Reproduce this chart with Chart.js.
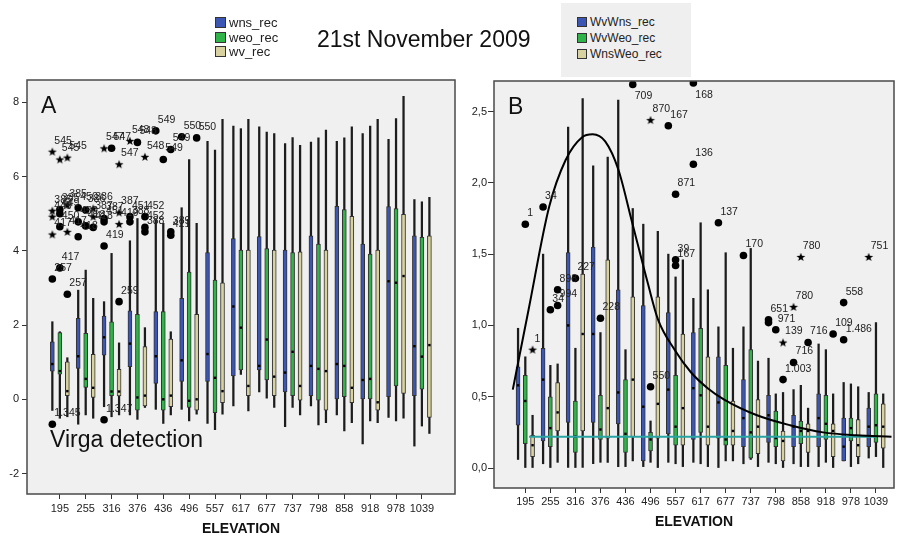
<!DOCTYPE html>
<html>
<head>
<meta charset="utf-8">
<script src="https://cdn.jsdelivr.net/npm/chart.js@4.4.1/dist/chart.umd.min.js"></script>
<style>
  body { margin: 0; background: #fff; }
  #wrap { position: relative; width: 899px; height: 538px; overflow: hidden;
          font-family: "Liberation Sans", Arial, sans-serif; color: #111; }
  canvas { position: absolute; top: 0; }
  #chartA { left: 0; }
  #chartB { left: 460px; }
  .txt { position: absolute; white-space: nowrap; line-height: 23px; font-size: 23px; }
  .key { position: absolute; white-space: nowrap; font-size: 13px; line-height: 11px; color: #222; }
  .key i { display: inline-block; width: 11px; height: 11px; box-sizing: border-box;
           border: 1px solid #333; vertical-align: top; margin-right: 3px; }
  #keyBoxB { position: absolute; left: 561px; top: 3px; width: 130px; height: 74px; background: #efefef; }
  #keyB .key { font-size: 12px; }
  #keyB .key i { width: 10px; height: 10px; }
</style>
</head>
<body>
<div id="wrap">
  <canvas id="chartA" width="460" height="538"></canvas>
  <canvas id="chartB" width="439" height="538"></canvas>
  <div class="txt" style="left:317px;top:28px">21st November 2009</div>
  <div class="txt" style="left:41px;top:94px">A</div>
  <div class="txt" style="left:508px;top:95px">B</div>
  <div class="txt" style="left:50px;top:428px">Virga detection</div>
  <div id="keyA"></div>
  <div id="keyBoxB"></div>
  <div id="keyB"></div>
</div>
<script>
Chart.defaults.font.family = '"Liberation Sans", Arial, sans-serif';

const elevations = ['195', '255', '316', '376', '436', '496', '557', '617', '677', '737', '798', '858', '918', '978', '1039'];
const namesA = ['wns_rec', 'weo_rec', 'wv_rec'];
const namesB = ['WvWns_rec', 'WvWeo_rec', 'WnsWeo_rec'];
const ticksA = [-2, 0, 2, 4, 6, 8];
const ticksB = [0, 0.5, 1, 1.5, 2, 2.5];

// box stats per elevation: [low whisker, Q1, median, Q3, high whisker]
const wnsA = [
  [-0.30, 0.76, 0.95, 1.55, 2.09], [-0.67, 0.83, 1.16, 2.18, 2.94], [-0.20, 1.19, 1.67, 2.24, 2.63],
  [-0.42, 0.88, 1.50, 2.38, 4.27], [-0.27, 0.43, 1.16, 2.36, 4.83], [-0.27, 0.48, 1.05, 2.72, 5.16],
  [-0.65, 0.48, 1.22, 3.95, 6.95], [-0.18, 0.63, 2.50, 4.33, 7.36], [0.20, 0.79, 0.90, 4.38, 7.34],
  [-0.74, 0.20, 0.72, 4.02, 6.89], [-0.18, 0.10, 0.90, 4.40, 6.93], [-0.42, 0.00, 0.95, 5.20, 6.95],
  [-1.20, 0.00, 0.52, 4.18, 7.16], [-0.49, 0.07, 3.18, 5.19, 7.00], [-1.26, 0.10, 1.43, 4.40, 5.38]
];
const weoA = [
  [-0.51, 0.68, 0.76, 1.80, 1.82], [-0.42, 0.32, 0.55, 1.78, 3.48], [-0.47, 0.10, 0.21, 2.09, 3.93],
  [-0.54, -0.29, 0.05, 2.29, 4.87], [-0.65, -0.29, 0.00, 2.36, 4.74], [-0.58, -0.22, -0.04, 3.43, 6.46],
  [-0.82, -0.36, 0.58, 3.21, 6.71], [0.67, 0.79, 1.93, 4.02, 7.29], [0.03, 0.52, 1.61, 4.06, 7.20],
  [-0.22, 0.10, 1.28, 3.95, 7.05], [-0.69, -0.02, 0.82, 4.18, 7.04], [-0.85, 0.07, 0.90, 5.11, 7.04],
  [-0.58, 0.00, 0.55, 3.91, 7.36], [-0.58, 0.36, 3.14, 5.14, 7.56], [-0.72, 0.27, 1.15, 4.36, 5.32]
];
const wvA = [
  [-0.47, 0.10, 0.22, 1.01, 1.12], [-0.51, 0.05, 0.31, 1.21, 2.72], [-0.42, 0.09, 0.21, 0.81, 1.52],
  [-0.22, -0.18, 0.10, 1.42, 1.93], [-0.42, -0.20, 0.10, 1.62, 1.82], [-0.40, -0.29, 0.00, 2.29, 4.74],
  [-0.40, -0.09, 0.22, 3.14, 7.54], [-0.31, 0.10, 0.36, 4.02, 7.54], [-0.22, 0.10, 0.61, 4.02, 7.16],
  [-0.42, -0.02, 0.36, 3.97, 6.84], [-0.63, -0.29, 0.76, 4.02, 7.25], [-0.63, -0.09, 0.31, 4.93, 7.34],
  [-0.63, -0.29, -0.08, 4.02, 7.54], [-0.51, 0.16, 3.32, 4.98, 8.16], [-0.92, -0.49, 1.46, 4.40, 5.44]
];

const wvWnsB = [
  [0.06, 0.30, 0.58, 0.71, 0.98], [0.03, 0.19, 0.62, 0.84, 1.50], [0.00, 0.32, 1.00, 1.51, 2.39],
  [0.03, 0.32, 0.94, 1.55, 2.12], [0.01, 0.31, 0.53, 1.25, 2.58], [0.01, 0.05, 0.43, 1.14, 1.71],
  [0.04, 0.24, 0.55, 1.09, 1.50], [0.04, 0.20, 0.56, 0.95, 1.19], [0.00, 0.21, 0.46, 0.78, 0.99],
  [0.03, 0.15, 0.35, 0.62, 0.99], [0.04, 0.18, 0.37, 0.51, 0.77], [0.03, 0.15, 0.29, 0.37, 0.55],
  [0.01, 0.15, 0.35, 0.52, 0.87], [0.05, 0.05, 0.15, 0.35, 0.60], [0.07, 0.15, 0.29, 0.42, 0.53]
];
const wvWeoB = [
  [0.00, 0.17, 0.47, 0.65, 0.78], [0.00, 0.15, 0.28, 0.50, 0.72], [0.00, 0.11, 0.22, 0.47, 0.84],
  [0.04, 0.20, 0.27, 0.51, 0.95], [0.01, 0.11, 0.24, 0.62, 0.83], [0.04, 0.12, 0.20, 0.25, 0.33],
  [0.03, 0.16, 0.29, 0.65, 1.34], [0.03, 0.25, 0.51, 0.98, 1.72], [0.05, 0.16, 0.20, 0.72, 1.51],
  [0.06, 0.07, 0.25, 0.83, 1.54], [0.03, 0.15, 0.21, 0.40, 0.52], [0.01, 0.17, 0.26, 0.33, 0.58],
  [0.04, 0.20, 0.31, 0.51, 0.83], [0.01, 0.19, 0.28, 0.35, 0.59], [0.08, 0.18, 0.30, 0.52, 1.02]
];
const wnsWeoB = [
  [0.00, 0.08, 0.16, 0.23, 0.37], [0.04, 0.26, 0.39, 0.60, 0.73], [0.00, 0.26, 0.94, 1.36, 2.59],
  [0.04, 0.21, 0.42, 1.46, 2.18], [0.05, 0.22, 0.62, 1.20, 1.82], [0.00, 0.21, 0.45, 1.20, 1.66],
  [0.01, 0.16, 0.42, 0.94, 1.46], [0.01, 0.16, 0.29, 0.78, 1.25], [0.05, 0.16, 0.26, 0.47, 0.84],
  [0.01, 0.10, 0.29, 0.48, 0.75], [0.00, 0.05, 0.19, 0.26, 0.53], [0.01, 0.11, 0.26, 0.31, 0.42],
  [0.00, 0.08, 0.26, 0.31, 0.52], [0.03, 0.08, 0.16, 0.34, 0.57], [0.00, 0.14, 0.29, 0.45, 0.52]
];

// outliers: [elevation index, series, value, case label, 'o' outlier | '*' extreme]
const outA = [
  [0, 0, 6.67, '545', '*'], [0, 1, 6.46, '545', '*'], [0, 2, 6.51, '545', '*'],
  [0, 0, 5.08, '385', '*'], [0, 1, 5.11, '385', 'o'], [0, 2, 5.23, '385', '*'],
  [0, 0, 4.92, '449', '*'], [0, 1, 5.00, '449', 'o'], [0, 1, 4.65, '450', 'o'],
  [0, 0, 4.44, '417', '*'], [0, 2, 4.51, '417', '*'], [0, 1, 3.54, '417', 'o'],
  [0, 0, 3.24, '257', 'o'], [0, 2, 2.83, '257', 'o'], [0, 0, -0.67, '1.345', 'o'],
  [1, 0, 5.16, '450', 'o'], [1, 1, 5.10, '386', 'o'], [1, 2, 5.14, '386', '*'],
  [1, 2, 4.92, '387', '*'], [1, 0, 4.78, '450', 'o'], [1, 1, 4.67, '418', 'o'],
  [1, 2, 4.63, '418', 'o'], [1, 0, 4.38, '418', 'o'],
  [2, 0, 6.76, '547', '*'], [2, 1, 6.76, '547', 'o'], [2, 2, 6.33, '547', '*'],
  [2, 0, 4.87, '387', 'o'], [2, 0, 4.78, '451', 'o'], [2, 0, 4.13, '419', 'o'],
  [2, 2, 5.03, '387', '*'], [2, 2, 4.72, '419', '*'], [2, 2, 2.63, '259', 'o'],
  [2, 0, -0.55, '1.347', 'o'],
  [3, 0, 6.96, '548', '*'], [3, 1, 6.92, '548', 'o'], [3, 2, 6.53, '548', '*'],
  [3, 0, 4.92, '451', 'o'], [3, 0, 4.78, '388', 'o'], [3, 2, 4.92, '452', 'o'],
  [3, 2, 4.63, '452', 'o'], [3, 2, 4.51, '388', 'o'],
  [4, 0, 7.23, '549', 'o'], [4, 1, 6.46, '549', 'o'], [4, 2, 6.73, '549', 'o'],
  [4, 2, 4.51, '389', 'o'], [4, 2, 4.42, '421', 'o'],
  [5, 0, 7.07, '550', 'o'], [5, 2, 7.04, '550', 'o']
];
const outB = [
  [0, 1, 1.71, '1', 'o'], [0, 2, 0.83, '1', '*'], [1, 0, 1.83, '34', 'o'],
  [1, 1, 1.11, '34', 'o'], [1, 2, 1.25, '898', 'o'], [1, 2, 1.14, '994', 'o'],
  [2, 1, 1.33, '227', 'o'], [3, 1, 1.05, '228', 'o'], [4, 2, 2.69, '709', 'o'],
  [5, 1, 0.57, '550', 'o'], [5, 1, 2.44, '870', '*'], [6, 0, 2.40, '167', 'o'],
  [6, 1, 1.92, '871', 'o'], [6, 1, 1.46, '39', 'o'], [6, 1, 1.42, '167', 'o'],
  [7, 0, 2.70, '168', 'o'], [7, 0, 2.13, '136', 'o'], [8, 0, 1.72, '137', 'o'],
  [9, 0, 1.49, '170', 'o'], [10, 0, 1.04, '651', 'o'], [10, 0, 1.02, '', 'o'],
  [10, 1, 0.97, '971', 'o'], [10, 2, 0.88, '139', '*'], [10, 2, 0.62, '1.003', 'o'],
  [11, 0, 1.13, '780', '*'], [11, 1, 1.48, '780', '*'], [11, 0, 0.74, '716', 'o'],
  [11, 2, 0.88, '716', 'o'], [12, 2, 0.94, '109', 'o'], [13, 0, 1.16, '558', 'o'],
  [13, 0, 0.90, '1.486', 'o'], [14, 0, 1.48, '751', '*']
];

// fitted density curve and reference level in panel B (x in elevation index units)
const curveX = [-0.50, 0.13, 0.95, 1.61, 2.27, 2.69, 3.19, 3.72, 4.24, 4.90, 5.30, 5.96, 6.62, 7.28, 7.94, 9.25, 10.57, 11.89, 13.21, 14.62];
const curveY = [0.55, 1.11, 1.83, 2.16, 2.32, 2.34, 2.29, 2.09, 1.74, 1.29, 1.04, 0.83, 0.67, 0.56, 0.48, 0.37, 0.30, 0.25, 0.23, 0.22];
const levelX = [0.15, 14.0];
const levelY = [0.22, 0.22];

const fills = ['#3c56b4', '#30b44a', '#d8d2a0'];
const shift = [-0.29, 0, 0.29];

// filled five-point star for extreme values
const starImg = document.createElement('canvas');
starImg.width = starImg.height = 10;
(function () {
  const c = starImg.getContext('2d');
  c.beginPath();
  for (let k = 0; k < 10; k++) {
    const r = k % 2 ? 1.9 : 4.6;
    const a = -Math.PI / 2 + k * Math.PI / 5;
    c.lineTo(5 + r * Math.cos(a), 5.4 + r * Math.sin(a));
  }
  c.closePath();
  c.fillStyle = '#000';
  c.fill();
})();

function panelDatasets(stats, outliers) {
  const sets = [];
  stats.forEach((rows, s) => {
    const at = i => i + shift[s];
    sets.push({ type: 'bar', order: 5, grouped: false, barThickness: 1.6, backgroundColor: '#1c1c1c',
      data: rows.map((r, i) => ({ x: at(i), y: [r[0], r[4]] })) });
    sets.push({ type: 'bar', order: 4, grouped: false, barThickness: 4, backgroundColor: fills[s],
      borderColor: '#333', borderWidth: 1, borderSkipped: false,
      data: rows.map((r, i) => ({ x: at(i), y: [r[1], r[3]] })) });
    sets.push({ type: 'scatter', order: 3, pointStyle: 'rect', pointRadius: 1.7, borderWidth: 0, backgroundColor: '#000',
      data: rows.map((r, i) => ({ x: at(i), y: r[2] })) });
  });
  const pick = kind => outliers.filter(o => o[4] === kind).map(o => ({ x: o[0] + shift[o[1]], y: o[2] }));
  sets.push({ type: 'scatter', order: 2, pointStyle: 'circle', pointRadius: 3.8, borderWidth: 0, backgroundColor: '#000', data: pick('o') });
  sets.push({ type: 'scatter', order: 2, pointStyle: starImg, pointRadius: 4, data: pick('*') });
  return sets;
}

const panelFrame = {
  id: 'panelFrame',
  beforeDraw(chart) {
    const { ctx, chartArea: a } = chart;
    ctx.save();
    ctx.fillStyle = '#f0f0f0';
    ctx.fillRect(a.left, a.top, a.right - a.left, a.bottom - a.top);
    ctx.restore();
  },
  afterDraw(chart) {
    const { ctx, chartArea: a } = chart;
    ctx.save();
    ctx.strokeStyle = '#4a4a4a';
    ctx.lineWidth = 1.5;
    ctx.strokeRect(a.left, a.top, a.right - a.left, a.bottom - a.top);
    ctx.restore();
  }
};

// case numbers printed next to outliers
function caseLabels(outliers) {
  return {
    id: 'caseLabels',
    afterDatasetsDraw(chart) {
      const { ctx, chartArea, scales: { x, y } } = chart;
      ctx.save();
      ctx.font = '10.5px "Liberation Sans", Arial, sans-serif';
      ctx.fillStyle = '#222';
      ctx.textBaseline = 'middle';
      outliers.forEach(([i, s, v, label]) => {
        if (!label) return;
        const px = x.getPixelForValue(i + shift[s]);
        let py = y.getPixelForValue(v) - 11;
        if (py < chartArea.top + 6) py += 23;
        ctx.fillText(label, px + 2, py);
      });
      ctx.restore();
    }
  };
}

function makePanel(id, p) {
  const tickFont = { size: 11 };
  return new Chart(document.getElementById(id), {
    type: 'bar',
    data: { datasets: p.datasets },
    options: {
      responsive: false,
      animation: false,
      events: [],
      layout: { padding: { top: p.top, right: p.right, left: 0, bottom: 0 } },
      plugins: { legend: { display: false }, tooltip: { enabled: false } },
      scales: {
        x: {
          type: 'linear', min: p.xMin, max: p.xMax, bounds: 'data', offset: false,
          afterBuildTicks: ax => { ax.ticks = elevations.map((e, i) => ({ value: i })); },
          afterFit: ax => { ax.height = p.xHeight; },
          ticks: { callback: v => elevations[v], autoSkip: false, maxRotation: 0, padding: p.xPad, font: tickFont, color: '#222' },
          grid: { offset: false, drawOnChartArea: false, tickLength: 5, color: '#333' },
          border: { display: false },
          title: { display: true, text: 'ELEVATION', color: '#111', font: { size: 14, weight: 'bold' },
                   padding: { top: 0, bottom: p.titlePad } }
        },
        y: {
          min: p.yMin, max: p.yMax, bounds: 'data',
          afterBuildTicks: ax => { ax.ticks = p.yTicks.map(v => ({ value: v })); },
          afterFit: ax => { ax.width = p.yWidth; },
          ticks: { callback: p.yFormat, padding: p.yPad, font: tickFont, color: '#222' },
          grid: { drawOnChartArea: false, tickLength: p.yTick, color: '#333' },
          border: { display: false }
        }
      }
    },
    plugins: [panelFrame, caseLabels(p.outliers)]
  });
}

makePanel('chartA', {
  datasets: panelDatasets([wnsA, weoA, wvA], outA),
  outliers: outA,
  top: 80, right: 3, xHeight: 44, yWidth: 27, xPad: 3, titlePad: 0, yPad: 3, yTick: 5,
  xMin: -1.27, xMax: 15.28, yMin: -2.55, yMax: 8.6, yTicks: ticksA,
  yFormat: v => String(v)
});

const setsB = panelDatasets([wvWnsB, wvWeoB, wnsWeoB], outB);
setsB.push({ type: 'line', order: 1, borderColor: '#000', borderWidth: 2, pointRadius: 0, fill: false,
  cubicInterpolationMode: 'monotone', data: curveX.map((x, i) => ({ x, y: curveY[i] })) });
setsB.push({ type: 'line', order: 1, borderColor: '#2aa3a3', borderWidth: 2, pointRadius: 0, fill: false,
  data: levelX.map((x, i) => ({ x, y: levelY[i] })) });

makePanel('chartB', {
  datasets: setsB,
  outliers: outB,
  top: 81, right: 1, xHeight: 50, yWidth: 34, xPad: 2, titlePad: 7, yPad: 1, yTick: 6,
  xMin: -1.25, xMax: 14.72, yMin: -0.14, yMax: 2.714, yTicks: ticksB,
  yFormat: v => v.toFixed(1).replace('.', ',')
});

// series keys
function buildKey(el, names, left, tops) {
  el.innerHTML = names.map((n, s) =>
    `<div class="key" style="left:${left}px;top:${tops[s]}px"><i style="background:${fills[s]}"></i>${n}</div>`).join('');
}
buildKey(document.getElementById('keyA'), namesA, 215, [17, 31.5, 46]);
buildKey(document.getElementById('keyB'), namesB, 577, [17, 33, 49]);
</script>
</body>
</html>
